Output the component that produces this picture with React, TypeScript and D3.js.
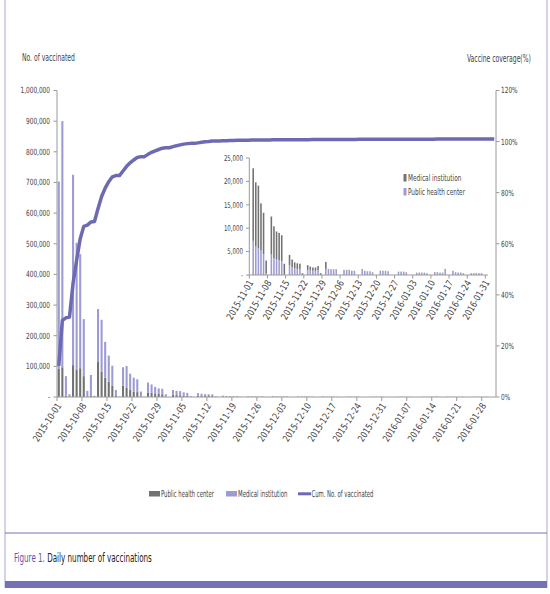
import { useEffect, useRef } from 'react';
import * as d3 from 'd3';

// Daily vaccinations, 2015-10-01 .. 2016-01-31
const PUBLIC_HEALTH = [
  // Oct
  92000, 97000, 4000, 1000, 104000, 90000, 94000, 68000, 2000, 3000, 500, 114000, 83000, 63000, 50000, 36000,
  3000, 0, 37000, 30000, 24000, 17000, 16000, 2000, 0, 15000, 14000, 12000, 10000, 9000, 1000,
  // Nov
  0, 7300, 6200, 5700, 5200, 4500, 300, 0, 4400, 3600, 3300, 3200, 3000, 200, 0, 2100, 1700, 1400, 1300, 1200,
  50, 0, 1100, 1000, 900, 900, 1000, 50, 0, 1300,
  // Dec
  1200, 1100, 1100, 1100, 0, 0, 1000, 1000, 1000, 850, 850, 0, 0, 1200, 850, 750, 750, 550, 0, 0, 850, 850,
  850, 750, 0, 0, 0, 650, 650, 650, 550,
  // Jan
  0, 0, 0, 470, 470, 470, 470, 380, 0, 0, 560, 560, 470, 470, 1200, 0, 0, 850, 560, 470, 470, 380, 0, 0, 380,
  380, 380, 380, 380, 0, 0,
];

const MEDICAL = [
  // Oct
  611000, 803000, 64000, 8000, 621000, 413000, 372000, 186000, 18000, 69000, 3500, 173000, 169000, 117000, 85000,
  66000, 20000, 1000, 60000, 71000, 52000, 46000, 42000, 16000, 1000, 32000, 27000, 21000, 18000, 18000, 8000,
  // Nov
  0, 15500, 13600, 13400, 10100, 8800, 2800, 0, 8100, 6800, 6000, 5800, 5500, 2200, 0, 2200, 1600, 1300, 1200,
  1200, 350, 0, 1000, 800, 700, 700, 900, 350, 0, 1500,
  // Dec
  100, 100, 100, 100, 0, 0, 100, 100, 100, 50, 50, 0, 0, 100, 50, 50, 50, 50, 0, 0, 50, 50, 50, 50, 0, 0, 0,
  50, 50, 50, 50,
  // Jan
  0, 0, 0, 30, 30, 30, 30, 20, 0, 0, 40, 40, 30, 30, 100, 0, 0, 50, 40, 30, 30, 20, 0, 0, 20, 20, 20, 20, 20,
  0, 0,
];

// Cumulative vaccine coverage (%), right axis
const COVERAGE = [
  // Oct
  12.2, 30.0, 31.0, 31.3, 44.5, 53.5, 62.0, 66.8, 67.3, 68.5, 68.7, 73.8, 78.5, 81.8, 84.3, 86.2, 86.7, 86.7,
  88.5, 90.3, 91.7, 92.8, 93.8, 94.1, 94.1, 95.0, 95.8, 96.4, 96.9, 97.4, 97.6,
  // Nov
  97.6, 98.0, 98.4, 98.7, 99.0, 99.2, 99.3, 99.3, 99.5, 99.7, 99.9, 100.0, 100.2, 100.2, 100.2, 100.3, 100.3,
  100.4, 100.4, 100.5, 100.5, 100.5, 100.5, 100.6, 100.6, 100.6, 100.6, 100.6, 100.6, 100.7,
  // Dec
  100.7, 100.7, 100.7, 100.7, 100.7, 100.7, 100.75, 100.75, 100.75, 100.75, 100.8, 100.8, 100.8, 100.8, 100.8,
  100.8, 100.8, 100.85, 100.85, 100.85, 100.85, 100.85, 100.85, 100.9, 100.9, 100.9, 100.9, 100.9, 100.9,
  100.9, 100.9,
  // Jan
  100.9, 100.9, 100.9, 100.9, 100.9, 100.95, 100.95, 100.95, 100.95, 100.95, 100.95, 100.95, 100.95, 100.95,
  101.0, 101.0, 101.0, 101.0, 101.0, 101.0, 101.0, 101.0, 101.0, 101.0, 101.0, 101.0, 101.0, 101.0, 101.0,
  101.0, 101.0,
];

const MAIN_TICKS = [
  '2015-10-01', '2015-10-08', '2015-10-15', '2015-10-22', '2015-10-29', '2015-11-05', '2015-11-12',
  '2015-11-19', '2015-11-26', '2015-12-03', '2015-12-10', '2015-12-17', '2015-12-24', '2015-12-31',
  '2016-01-07', '2016-01-14', '2016-01-21', '2016-01-28',
];
const INSET_TICKS = [
  '2015-11-01', '2015-11-08', '2015-11-15', '2015-11-22', '2015-11-29', '2015-12-06', '2015-12-13',
  '2015-12-20', '2015-12-27', '2016-01-03', '2016-01-10', '2016-01-17', '2016-01-24', '2016-01-31',
];
const LEFT_TICKS = [0, 100000, 200000, 300000, 400000, 500000, 600000, 700000, 800000, 900000, 1000000];
const RIGHT_TICKS = [0, 20, 40, 60, 80, 100, 120];
const INSET_Y_TICKS = [0, 5000, 10000, 15000, 20000, 25000];

const COLORS = {
  gray: '#727272',
  lilac: '#9d9bd3',
  line: '#6d6ab3',
  axis: '#9a9a9a',
  text: '#444',
  frame: '#c6c4e6',
  band: '#7471b6',
  caption: '#5856a8',
};
const FONT = "'Liberation Sans Narrow', 'Arial Narrow', 'DejaVu Sans Condensed', sans-serif";

const fmtDay = d3.timeFormat('%Y-%m-%d');
const DAYS = d3.timeDay.range(new Date(2015, 9, 1), new Date(2016, 1, 1)).map(fmtDay);

// squeeze a text horizontally to a given width (the source font is very narrow)
function fit(sel: d3.Selection<SVGTextElement, unknown, null, undefined>, x: number, y: number, w: number) {
  const len = sel.node()!.getComputedTextLength();
  sel.attr('x', 0).attr('y', 0).attr('transform', `translate(${x},${y}) scale(${w / len},1)`);
}

export default function App() {
  const svgRef = useRef<SVGSVGElement>(null);

  useEffect(() => {
    document.body.style.margin = '0';
    const svg = d3.select(svgRef.current);
    svg.selectAll('*').remove();

    const rows = DAYS.map((day, i) => ({
      day,
      ph: PUBLIC_HEALTH[i],
      med: MEDICAL[i],
      cov: COVERAGE[i],
    }));

    svg.append('rect').attr('width', 550).attr('height', 594).attr('fill', '#fff');

    // frame
    svg.append('line').attr('x1', 5).attr('x2', 5).attr('y1', 0).attr('y2', 588)
      .attr('stroke', COLORS.frame).attr('stroke-width', 1.5);
    svg.append('line').attr('x1', 547).attr('x2', 547).attr('y1', 0).attr('y2', 588)
      .attr('stroke', COLORS.frame).attr('stroke-width', 1.5);
    svg.append('line').attr('x1', 5).attr('x2', 547).attr('y1', 533).attr('y2', 533)
      .attr('stroke', COLORS.band).attr('stroke-width', 1);
    svg.append('rect').attr('x', 5).attr('y', 581).attr('width', 542).attr('height', 7)
      .attr('fill', COLORS.band);

    // ---- main chart
    const pi = 0.42;
    const x = d3.scaleBand().domain(DAYS).range([57, 496]).paddingInner(pi).paddingOuter(pi / 2);
    const tickX = (d: string) => x(d)! - (x.step() * pi) / 2;
    const y = d3.scaleLinear().domain([0, 1000000]).range([397, 90.5]);
    const yR = d3.scaleLinear().domain([0, 120]).range([397, 90.5]);

    const stack = d3.stack<any>().keys(['ph', 'med']);
    const series = stack(rows);
    const mainColors = [COLORS.gray, COLORS.lilac];
    series.forEach((s, k) => {
      svg.append('g').selectAll('rect').data(s).enter().append('rect')
        .attr('x', (d: any) => x(d.data.day)!)
        .attr('width', x.bandwidth())
        .attr('y', (d) => y(d[1]))
        .attr('height', (d) => Math.max(0, y(d[0]) - y(d[1])))
        .attr('fill', mainColors[k]);
    });

    // axes
    const ax = svg.append('g').attr('stroke', COLORS.axis).attr('stroke-width', 1);
    ax.append('line').attr('x1', 57).attr('x2', 57).attr('y1', 90.5).attr('y2', 397);
    ax.append('line').attr('x1', 496).attr('x2', 496).attr('y1', 90.5).attr('y2', 397);
    ax.append('line').attr('x1', 57).attr('x2', 496).attr('y1', 397).attr('y2', 397);
    LEFT_TICKS.forEach((t) => {
      ax.append('line').attr('x1', 53.5).attr('x2', 57).attr('y1', y(t)).attr('y2', y(t));
    });
    RIGHT_TICKS.forEach((t) => {
      ax.append('line').attr('x1', 496).attr('x2', 499.5).attr('y1', yR(t)).attr('y2', yR(t));
    });
    MAIN_TICKS.forEach((t) => {
      ax.append('line').attr('x1', tickX(t)).attr('x2', tickX(t)).attr('y1', 397).attr('y2', 401);
    });

    const txt = svg.append('g').attr('font-family', FONT).attr('fill', COLORS.text);
    txt.selectAll('.yl').data(LEFT_TICKS).enter().append('text')
      .attr('transform', (d) => `translate(50,${y(d)}) scale(0.76,1)`)
      .attr('dy', '0.35em').attr('text-anchor', 'end').attr('font-size', 8.5)
      .text((d) => (d === 0 ? '-' : d3.format(',')(d)));
    txt.selectAll('.yr').data(RIGHT_TICKS).enter().append('text')
      .attr('transform', (d) => `translate(501,${yR(d)}) scale(0.76,1)`)
      .attr('dy', '0.35em').attr('font-size', 8.5)
      .text((d) => `${d}%`);
    txt.selectAll('.xl').data(MAIN_TICKS).enter().append('text')
      .attr('transform', (d) => `translate(${tickX(d) + 2},${404}) rotate(-57) scale(0.88,1)`)
      .attr('dy', '0.35em').attr('text-anchor', 'end').attr('font-size', 9.5)
      .text((d) => d);

    fit(txt.append('text').attr('font-size', 10).text('No. of vaccinated'), 22, 61, 53);
    fit(txt.append('text').attr('font-size', 10).text('Vaccine coverage(%)'), 467, 62, 64);

    // ---- inset (drawn above the main chart)
    const ig = svg.append('g');
    const itx = svg.append('g').attr('font-family', FONT).attr('fill', COLORS.text);
    const ROWS2 = rows.slice(31);
    const pi2 = 0.4;
    const x2 = d3.scaleBand().domain(ROWS2.map((r) => r.day)).range([249.3, 488])
      .paddingInner(pi2).paddingOuter(pi2 / 2);
    const tickX2 = (d: string) => x2(d)! - (x2.step() * pi2) / 2;
    const y2 = d3.scaleLinear().domain([0, 25000]).range([275, 158]);

    ig.append('rect').attr('x', 214).attr('y', 150).attr('width', 278).attr('height', 180)
      .attr('fill', '#fff');

    const series2 = stack(ROWS2);
    const insetColors = [COLORS.lilac, COLORS.gray];
    series2.forEach((s, k) => {
      ig.append('g').selectAll('rect').data(s).enter().append('rect')
        .attr('x', (d: any) => x2(d.data.day)!)
        .attr('width', x2.bandwidth())
        .attr('y', (d) => y2(d[1]))
        .attr('height', (d) => Math.max(0, y2(d[0]) - y2(d[1])))
        .attr('fill', insetColors[k]);
    });

    const ax2 = ig.append('g').attr('stroke', COLORS.axis).attr('stroke-width', 1);
    ax2.append('line').attr('x1', 249.3).attr('x2', 249.3).attr('y1', 158).attr('y2', 275);
    ax2.append('line').attr('x1', 249.3).attr('x2', 488).attr('y1', 275).attr('y2', 275);
    INSET_Y_TICKS.forEach((t) => {
      ax2.append('line').attr('x1', 246).attr('x2', 249.3).attr('y1', y2(t)).attr('y2', y2(t));
    });
    INSET_TICKS.forEach((t) => {
      ax2.append('line').attr('x1', tickX2(t)).attr('x2', tickX2(t)).attr('y1', 275).attr('y2', 278.5);
    });
    itx.selectAll('.y2').data(INSET_Y_TICKS).enter().append('text')
      .attr('transform', (d) => `translate(243,${y2(d)}) scale(0.76,1)`)
      .attr('dy', '0.35em').attr('text-anchor', 'end').attr('font-size', 8)
      .text((d) => (d === 0 ? '-' : d3.format(',')(d)));
    itx.selectAll('.x2').data(INSET_TICKS).enter().append('text')
      .attr('transform', (d) => `translate(${tickX2(d) + 1.5},${281}) rotate(-60) scale(0.88,1)`)
      .attr('dy', '0.35em').attr('text-anchor', 'end').attr('font-size', 9.5)
      .text((d) => d);

    // inset legend
    const lg2 = [
      { label: 'Medical institution', color: COLORS.gray, y: 178, w: 53.5 },
      { label: 'Public health center', color: COLORS.lilac, y: 192, w: 57 },
    ];
    lg2.forEach((l) => {
      ig.append('rect').attr('x', 403.5).attr('y', l.y - 4).attr('width', 3).attr('height', 7.5)
        .attr('fill', l.color);
      fit(itx.append('text').attr('dy', '0.35em').attr('font-size', 9.5).text(l.label), 408, l.y, l.w);
    });

    // cumulative coverage line (on top)
    const line = d3.line<any>()
      .x((d) => x(d.day)! + x.bandwidth() / 2)
      .y((d) => yR(d.cov));
    svg.append('path').datum(rows).attr('d', line).attr('fill', 'none')
      .attr('stroke', COLORS.line).attr('stroke-width', 3.5).attr('stroke-linejoin', 'round');

    // main legend
    const ltx = svg.append('g').attr('font-family', FONT).attr('fill', COLORS.text).attr('font-size', 9.5);
    svg.append('rect').attr('x', 149).attr('y', 491).attr('width', 11).attr('height', 5.5)
      .attr('fill', COLORS.gray);
    fit(ltx.append('text').attr('dy', '0.35em').text('Public health center'), 161, 493.8, 53);
    svg.append('rect').attr('x', 226).attr('y', 491).attr('width', 11).attr('height', 5.5)
      .attr('fill', COLORS.lilac);
    fit(ltx.append('text').attr('dy', '0.35em').text('Medical institution'), 238, 493.8, 49.5);
    svg.append('line').attr('x1', 298).attr('x2', 311).attr('y1', 493.8).attr('y2', 493.8)
      .attr('stroke', COLORS.line).attr('stroke-width', 3);
    fit(ltx.append('text').attr('dy', '0.35em').text('Cum. No. of vaccinated'), 311.5, 493.8, 62);

    // caption
    const cap = svg.append('text').attr('font-family', FONT).attr('font-size', 12.5);
    cap.append('tspan').attr('fill', COLORS.caption).text('Figure 1.');
    cap.append('tspan').attr('fill', '#222').text(' Daily number of vaccinations');
    fit(cap, 14, 562, 138);
  }, []);

  return (
    <div style={{ position: 'absolute', left: 0, top: 0 }}>
      <svg ref={svgRef} width={550} height={594} style={{ display: 'block' }} />
    </div>
  );
}
